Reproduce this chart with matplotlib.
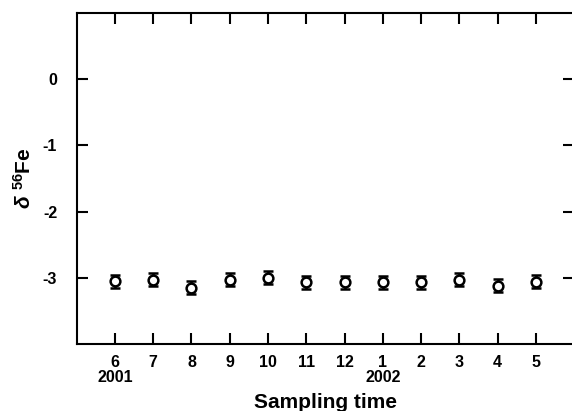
import numpy as np
import matplotlib
matplotlib.use("Agg")
import matplotlib.pyplot as plt

plt.rcParams['font.family'] = ['Liberation Sans', 'DejaVu Sans']
plt.rcParams['font.weight'] = 'bold'
plt.rcParams['mathtext.fontset'] = 'custom'
plt.rcParams['mathtext.rm'] = 'Liberation Sans:bold'
plt.rcParams['mathtext.it'] = 'Liberation Sans:bold:italic'
plt.rcParams['mathtext.bf'] = 'Liberation Sans:bold'

# mois d'echantillonnage (juin 2001 -> mai 2002)
mois = ["6\n2001", "7", "8", "9", "10", "11", "12", "1\n2002", "2", "3", "4", "5"]
delta_fe = [-3.05, -3.03, -3.15, -3.03, -3.00, -3.07, -3.07, -3.07, -3.07, -3.03, -3.12, -3.06]
erreur = [0.1, 0.1, 0.1, 0.1, 0.1, 0.1, 0.1, 0.1, 0.1, 0.1, 0.1, 0.1]
yticks = [0, -1, -2, -3]

x = np.arange(len(mois))

fig = plt.figure(figsize=(5.72, 4.11), dpi=100)
ax = fig.add_axes([0.134, 0.163, 0.87, 0.805])

ax.errorbar(x, delta_fe, yerr=erreur, fmt='o', mfc='white', mec='black', ecolor='black',
            ms=7, mew=1.8, elinewidth=1.8, capsize=3.5, capthick=1.8)

ax.set_xlim(-1, len(mois))
ax.set_ylim(-4, 1)
ax.set_xticks(x)
ax.set_xticklabels(mois, fontsize=11.5, fontweight='bold', linespacing=1.0)
ax.set_yticks(yticks)
ax.set_yticklabels([str(v) for v in yticks], fontsize=11.5, fontweight='bold')

ax.tick_params(axis='both', direction='in', length=8, width=1.5, top=True, right=True)
ax.tick_params(axis='x', pad=8)
ax.tick_params(axis='y', pad=14)
for s in ax.spines.values():
    s.set_linewidth(1.5)

ax.set_xlabel("Sampling time", fontsize=15, fontweight='bold', labelpad=6)
ax.set_ylabel(r"$\delta\ ^{56}\mathrm{Fe}$", fontsize=15, labelpad=6)

plt.savefig("out.png", dpi=100)
